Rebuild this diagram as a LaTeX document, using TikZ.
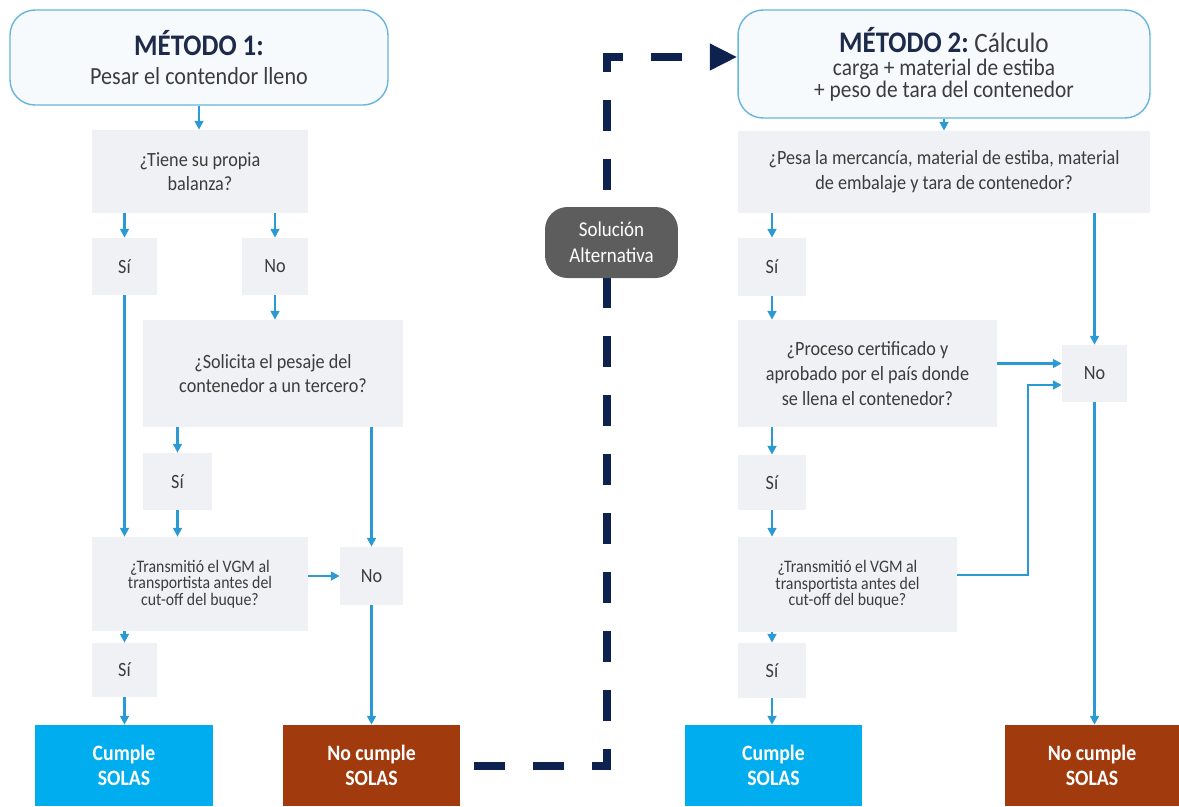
\documentclass[tikz,border=0pt]{standalone}
\usepackage{fontspec}
\setmainfont{Carlito}[FakeStretch=0.9]
\usetikzlibrary{calc,arrows.meta}

\definecolor{flowblue}{RGB}{43,154,210}
\definecolor{boxgray}{RGB}{239,241,244}
\definecolor{headfill}{RGB}{246,250,253}
\definecolor{headline}{RGB}{102,181,221}
\definecolor{dashnavy}{RGB}{14,34,80}
\definecolor{titlenavy}{RGB}{30,42,74}
\definecolor{textgray}{RGB}{60,60,60}
\definecolor{altgray}{RGB}{93,93,93}
\definecolor{okcyan}{RGB}{0,174,239}
\definecolor{failbrown}{RGB}{161,58,12}

\begin{document}
\begin{tikzpicture}[x=0.02cm, y=-0.02cm,
  every node/.style={font=\fontsize{11.5}{14}\selectfont, text=textgray, align=center, inner sep=0pt},
  head/.style={draw=headline, line width=0.8pt, fill=headfill, rounded corners=0.5cm},
  qbox/.style={fill=boxgray},
  ans/.style={fill=boxgray, minimum height=1.14cm},
  result/.style={text=white, font=\fontsize{12.5}{14}\selectfont\bfseries, minimum height=1.62cm},
  small/.style={font=\fontsize{10}{9.5}\selectfont},
  flow/.style={draw=flowblue, line width=1.2pt, -{Triangle[length=5pt,width=5pt]}},
  altbox/.style={fill=altgray, text=white, rounded corners=0.45cm, font=\fontsize{12}{15}\selectfont}]

\useasboundingbox (0,0) rectangle (1179,806);

% --------- Method 1 (left column) ----------
\node[head, minimum width=7.56cm, minimum height=1.9cm] (m1) at (199,57.5)
  {{\fontsize{17}{19}\selectfont\bfseries\color{titlenavy}MÉTODO 1:}\\[3pt]
   \fontsize{14}{16}\selectfont Pesar el contendor lleno};

\node[qbox, minimum width=4.32cm, minimum height=1.66cm] (q1) at (200,171.5) {¿Tiene su propia\\balanza?};
\node[ans, minimum width=1.3cm]  (si1) at (124.5,266.5) {Sí};
\node[ans, minimum width=1.32cm] (no1) at (275,266.5) {No};

\node[qbox, minimum width=5.2cm, minimum height=2.14cm] (q2) at (273,373.5) {¿Solicita el pesaje del\\contenedor a un tercero?};
\node[ans, minimum width=1.38cm] (si2) at (177.5,481.5) {Sí};

\node[qbox, small, minimum width=4.32cm, minimum height=1.88cm] (q3) at (200,584)
  {¿Transmitió el VGM al\\transportista antes del\\cut-off del buque?};
\node[ans, minimum width=1.26cm, minimum height=1.16cm] (no2) at (371.5,576) {No};
\node[ans, minimum width=1.3cm, minimum height=1.08cm] (si3) at (124.5,670) {Sí};

\node[result, fill=okcyan, minimum width=3.56cm]    (ok1)   at (124,765.5)   {Cumple\\SOLAS};
\node[result, fill=failbrown, minimum width=3.54cm] (fail1) at (371.5,765.5) {No cumple\\SOLAS};

% --------- Method 2 (right column) ----------
\node[head, minimum width=8.24cm, minimum height=2.16cm] (m2) at (944,64)
  {{\fontsize{17}{19}\selectfont\bfseries\color{titlenavy}MÉTODO 2:}
   {\fontsize{16}{18}\selectfont Cálculo}\\[-1pt]
   \fontsize{13.5}{11}\selectfont carga + material de estiba\\[-1.5pt]
   \fontsize{13.5}{11}\selectfont + peso de tara del contenedor};

\node[qbox, minimum width=8.24cm, minimum height=1.64cm] (q4) at (944,172)
  {¿Pesa la mercancía, material de estiba, material\\de embalaje y tara de contenedor?};
\node[ans, minimum width=1.36cm, minimum height=1.16cm] (si4) at (772,267) {Sí};

\node[qbox, minimum width=5.18cm, minimum height=2.14cm] (q5) at (867.5,373.5)
  {¿Proceso certificado y\\aprobado por el país donde\\se llena el contenedor?};
\node[ans, minimum width=1.3cm] (no3) at (1094.5,373.5) {No};
\node[ans, minimum width=1.36cm, minimum height=1.1cm] (si5) at (772,482.5) {Sí};

\node[qbox, small, minimum width=4.38cm, minimum height=1.9cm] (q6) at (847.5,584.5)
  {¿Transmitió el VGM al\\transportista antes del\\cut-off del buque?};
\node[ans, minimum width=1.36cm, minimum height=1.1cm] (si6) at (772,670.5) {Sí};

\node[result, fill=okcyan, minimum width=3.54cm]    (ok2)   at (773.5,765.5) {Cumple\\SOLAS};
\node[result, fill=failbrown, minimum width=3.48cm] (fail2) at (1092,765.5)  {No cumple\\SOLAS};

% --------- Flow arrows, method 1 ----------
\draw[flow] (m1.south) -- (m1.south |- q1.north);
\draw[flow] (si1 |- q1.south) -- (si1.north);
\draw[flow] (no1 |- q1.south) -- (no1.north);
\draw[flow] (si1.south) -- (si1.south |- q3.north);
\draw[flow] (no1.south) -- (no1.south |- q2.north);
\draw[flow] (si2 |- q2.south) -- (si2.north);
\draw[flow] (si2.south) -- (si2.south |- q3.north);
\draw[flow] (no2 |- q2.south) -- (no2.north);
\draw[flow] (q3.east |- no2.west) -- (no2.west);
\draw[flow] (si3 |- q3.south) -- (si3.north);
\draw[flow] (si3.south) -- (si3.south |- ok1.north);
\draw[flow] (no2.south) -- (no2.south |- fail1.north);

% --------- Flow arrows, method 2 ----------
\coordinate (no3a)   at ([yshift=0.2cm]no3.west);
\coordinate (no3b)   at ([yshift=-0.23cm]no3.west);
\coordinate (q6out)  at ([yshift=0.19cm]q6.east);
\coordinate (q6bend) at ([xshift=-0.68cm]no3b);

\draw[flow] (m2.south) -- (m2.south |- q4.north);
\draw[flow] (si4 |- q4.south) -- (si4.north);
\draw[flow] (si4.south) -- (si4.south |- q5.north);
\draw[flow] (no3 |- q4.south) -- (no3.north);
\draw[flow] (q5.east |- no3a) -- (no3a);
\draw[flow] (si5 |- q5.south) -- (si5.north);
\draw[flow] (si5.south) -- (si5.south |- q6.north);
\draw[flow] (q6out) -| (q6bend) -- (no3b);
\draw[flow] (si6 |- q6.south) -- (si6.north);
\draw[flow] (si6.south) -- (si6.south |- ok2.north);
\draw[flow] (no3.south) -- (no3.south |- fail2.north);

% --------- Alternative route (dashed) ----------
\coordinate (dlow)  at (607,765.5);
\coordinate (dhigh) at (607,57);
\draw[dashnavy, line width=0.16cm, dash pattern=on 0.62cm off 0.561cm, dash phase=0.902cm,
      -{Triangle[length=0.55cm,width=0.5cm]}]
  (fail1.east) -- (dlow) -- (dhigh) -- (dhigh -| m2.west);

\node[altbox, minimum width=2.66cm, minimum height=1.42cm] (alt) at (611.5,242.5) {Solución\\Alternativa};

\end{tikzpicture}
\end{document}
